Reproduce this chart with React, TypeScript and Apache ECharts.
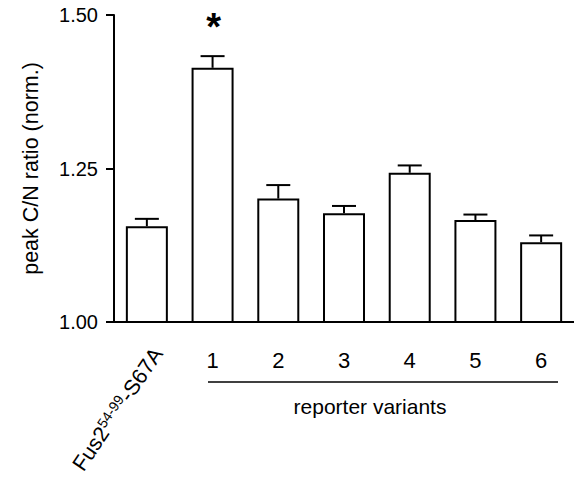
import React, { useEffect, useRef } from "react";
import * as echarts from "echarts";

const categories = ["Fus2-54-99-S67A", "1", "2", "3", "4", "5", "6"];
const means = [1.156, 1.414, 1.201, 1.177, 1.243, 1.166, 1.13];
const sems = [0.012, 0.019, 0.022, 0.012, 0.012, 0.009, 0.011];
const significance = ["", "*", "", "", "", "", ""];
const yTicks = [1.0, 1.25, 1.5];
const yAxisTitle = "peak C/N ratio (norm.)";
const groupTitle = "reporter variants";

const FONT = "'Liberation Sans', Arial, Helvetica, sans-serif";

export default function App() {
  const ref = useRef<HTMLDivElement>(null);
  useEffect(() => {
    if (!ref.current) return;
    const chart = echarts.init(ref.current, null, { renderer: "svg" });
    const option: any = {
      animation: false,
      backgroundColor: "#ffffff",
      textStyle: { fontFamily: FONT },
      grid: { left: 114, top: 15, width: 460, height: 307, containLabel: false },
      xAxis: {
        type: "category",
        data: categories,
        axisLine: { lineStyle: { color: "#000", width: 2 } },
        axisTick: { alignWithLabel: true, length: 8, lineStyle: { color: "#000", width: 2 } },
        axisLabel: {
          margin: 27,
          fontSize: 22,
          color: "#000",
          fontFamily: FONT,
          formatter: (v: string, i: number) => (i === 0 ? "" : v),
        },
        splitLine: { show: false },
      },
      yAxis: {
        type: "value",
        min: yTicks[0],
        max: yTicks[yTicks.length - 1],
        interval: 0.25,
        name: yAxisTitle,
        nameLocation: "middle",
        nameRotate: 90,
        nameGap: 72,
        nameTextStyle: { fontSize: 21.5, color: "#000", fontFamily: FONT },
        axisLine: { show: true, lineStyle: { color: "#000", width: 2 } },
        axisTick: { show: true, length: 8, lineStyle: { color: "#000", width: 2 } },
        axisLabel: {
          margin: 16,
          fontSize: 20,
          color: "#000",
          fontFamily: FONT,
          formatter: (v: number) => v.toFixed(2),
        },
        splitLine: { show: false },
      },
      series: [
        {
          type: "bar",
          data: means,
          barWidth: 42,
          itemStyle: { color: "#fff", borderColor: "#000", borderWidth: 2 },
          z: 2,
        },
        {
          type: "custom",
          z: 3,
          data: means.map((m, i) => [i, m, sems[i]]),
          renderItem: (params: any, api: any) => {
            const i = api.value(0);
            const m = api.value(1);
            const e = api.value(2);
            const p0 = api.coord([i, m]);
            const p1 = api.coord([i, m + e]);
            const half = 12;
            const children: any[] = [
              {
                type: "line",
                shape: { x1: p0[0], y1: p0[1], x2: p1[0], y2: p1[1] },
                style: { stroke: "#000", lineWidth: 2 },
              },
              {
                type: "line",
                shape: { x1: p1[0] - half, y1: p1[1], x2: p1[0] + half, y2: p1[1] },
                style: { stroke: "#000", lineWidth: 2 },
              },
            ];
            const sig = significance[params.dataIndex];
            if (sig) {
              children.push({
                type: "text",
                x: p1[0] + 1,
                y: p1[1] - 29,
                style: {
                  text: sig,
                  fill: "#000",
                  font: `bold 38px ${FONT}`,
                  align: "center",
                  verticalAlign: "middle",
                },
              });
            }
            return { type: "group", children };
          },
        },
      ],
      graphic: [
        {
          type: "text",
          x: 167,
          y: 356,
          rotation: (56 * Math.PI) / 180,
          style: {
            text: "{n|Fus2}{s|54-99}{n|-S67A}",
            align: "right",
            verticalAlign: "bottom",
            rich: {
              n: { fontSize: 21.5, fontFamily: FONT, fill: "#000", lineHeight: 24, verticalAlign: "bottom" },
              s: { fontSize: 14, fontFamily: FONT, fill: "#000", lineHeight: 24, verticalAlign: "top", padding: [1, 0, 0, 0] },
            },
          },
        },
        {
          type: "line",
          shape: { x1: 208, y1: 382, x2: 558, y2: 382 },
          style: { stroke: "#000", lineWidth: 1.5 },
        },
        {
          type: "text",
          x: 370,
          y: 406,
          style: {
            text: groupTitle,
            font: `21px ${FONT}`,
            fill: "#000",
            align: "center",
            verticalAlign: "middle",
          },
        },
      ],
    };
    chart.setOption(option);
    return () => chart.dispose();
  }, []);
  return (
    <div
      ref={ref}
      style={{ position: "fixed", left: 0, top: 0, width: 574, height: 486 }}
    />
  );
}
